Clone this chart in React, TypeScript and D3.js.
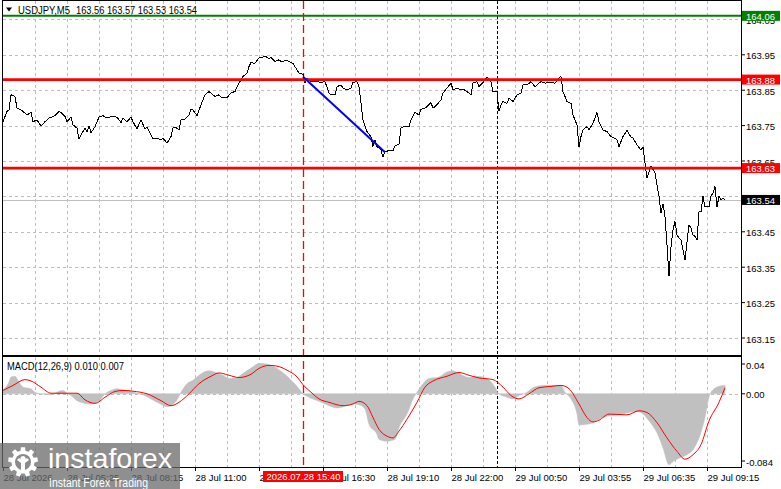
import {useMemo} from "react";
import * as d3 from "d3";

const W = 781;
const H = 489;
const FRAME = {left: 3, right: 741, top: 1, mainBottom: 355, macdTop: 357, macdBottom: 467};
const FONT = "'Liberation Sans', Arial, sans-serif";

// header / legend texts
const symbolTitle = "USDJPY,M5";
const lastOhlc = [163.56, 163.57, 163.53, 163.54];
const macdTitle = "MACD(12,26,9)";
const macdLast = [0.01, 0.007];

// axes
const priceTicks = [163.15, 163.25, 163.35, 163.45, 163.55, 163.65, 163.75, 163.85, 163.95, 164.05];
const macdTicks = [0.04, 0.0, -0.084];
const timeLabels = [
    "28 Jul 2026", "28 Jul 05:25", "28 Jul 08:15", "28 Jul 11:00", "28 Jul 13:45", "28 Jul 16:30",
    "28 Jul 19:10", "28 Jul 22:00", "29 Jul 00:50", "29 Jul 03:55", "29 Jul 06:35", "29 Jul 09:15",
];
const barsPerLabel = 32;
const barsPerGrid = 16;
const totalBars = 369;

// objects on the chart
const greenLevel = 164.06;
const redLevels = [163.88, 163.63];
const lastPrice = 163.54;
const trendLine: [number, number][] = [[150, 163.888], [191, 163.675]];
const crosshairBar = 150;
const crosshairLabel = "2026.07.28 15:40";
const daySeparatorBar = 247;

// close line, [bar, price]
const closes: [number, number][] = [
    [0, 163.761], [2, 163.79], [3, 163.794], [4, 163.837], [6, 163.832], [7, 163.799], [9, 163.794], [10, 163.79],
    [12, 163.78], [14, 163.787], [15, 163.761], [17, 163.766], [18, 163.757], [19, 163.749], [21, 163.761], [23, 163.771],
    [26, 163.778], [28, 163.79], [29, 163.787], [31, 163.776], [32, 163.761], [34, 163.774], [35, 163.752], [37, 163.743],
    [38, 163.712], [39, 163.724], [41, 163.743], [42, 163.733], [43, 163.749], [44, 163.73], [46, 163.747], [48, 163.774],
    [50, 163.778], [52, 163.771], [54, 163.776], [57, 163.774], [59, 163.759], [60, 163.771], [62, 163.761], [64, 163.774],
    [65, 163.761], [67, 163.74], [68, 163.755], [69, 163.766], [71, 163.74], [72, 163.746], [74, 163.724], [75, 163.712],
    [77, 163.715], [79, 163.71], [80, 163.715], [82, 163.7], [84, 163.719], [85, 163.743], [86, 163.746], [88, 163.738],
    [89, 163.766], [91, 163.768], [93, 163.78], [94, 163.796], [95, 163.794], [97, 163.778], [99, 163.809], [100, 163.823],
    [101, 163.837], [103, 163.846], [104, 163.842], [106, 163.832], [108, 163.837], [109, 163.83], [112, 163.828], [114, 163.843],
    [116, 163.846], [117, 163.86], [119, 163.879], [120, 163.889], [122, 163.898], [123, 163.917], [124, 163.928], [126, 163.926],
    [128, 163.941], [129, 163.941], [131, 163.947], [133, 163.938], [134, 163.943], [136, 163.931], [138, 163.936], [139, 163.931],
    [142, 163.934], [145, 163.926], [147, 163.907], [148, 163.898], [150, 163.895], [151, 163.87], [152, 163.884], [154, 163.874],
    [157, 163.874], [159, 163.872], [161, 163.874], [163, 163.842], [164, 163.837], [166, 163.837], [167, 163.86], [169, 163.865],
    [170, 163.856], [172, 163.851], [174, 163.856], [175, 163.872], [177, 163.874], [178, 163.86], [179, 163.813], [180, 163.766],
    [182, 163.733], [184, 163.719], [185, 163.691], [186, 163.71], [187, 163.691], [189, 163.681], [190, 163.661], [191, 163.677],
    [193, 163.679], [195, 163.679], [196, 163.693], [198, 163.698], [199, 163.743], [201, 163.749], [203, 163.746], [204, 163.766],
    [206, 163.787], [208, 163.78], [209, 163.796], [211, 163.799], [214, 163.815], [215, 163.799], [217, 163.809], [219, 163.823],
    [220, 163.842], [222, 163.856], [224, 163.87], [225, 163.851], [227, 163.856], [229, 163.851], [230, 163.853], [232, 163.846],
    [234, 163.837], [235, 163.87], [237, 163.874], [238, 163.86], [240, 163.872], [242, 163.887], [244, 163.874], [245, 163.846],
    [247, 163.846], [248, 163.79], [249, 163.809], [250, 163.818], [252, 163.813], [253, 163.828], [255, 163.818], [257, 163.837],
    [259, 163.842], [260, 163.865], [262, 163.865], [264, 163.874], [266, 163.86], [268, 163.87], [269, 163.874], [271, 163.87],
    [274, 163.872], [276, 163.87], [278, 163.884], [279, 163.889], [280, 163.846], [282, 163.818], [284, 163.813], [285, 163.78],
    [287, 163.752], [288, 163.689], [289, 163.719], [290, 163.738], [292, 163.747], [293, 163.738], [295, 163.757], [297, 163.787],
    [298, 163.761], [300, 163.738], [302, 163.733], [304, 163.719], [305, 163.717], [307, 163.71], [308, 163.691], [310, 163.719],
    [312, 163.736], [314, 163.717], [315, 163.715], [317, 163.696], [319, 163.681], [320, 163.689], [321, 163.644], [322, 163.602],
    [323, 163.62], [324, 163.636], [326, 163.616], [327, 163.583], [328, 163.55], [329, 163.503], [330, 163.529], [331, 163.493],
    [332, 163.413], [333, 163.324], [334, 163.408], [335, 163.456], [336, 163.479], [337, 163.441], [338, 163.432], [339, 163.427],
    [340, 163.399], [341, 163.371], [342, 163.422], [343, 163.47], [344, 163.46], [345, 163.441], [346, 163.437], [347, 163.427],
    [348, 163.507], [349, 163.507], [350, 163.55], [351, 163.521], [353, 163.521], [354, 163.552], [355, 163.559], [356, 163.578],
    [357, 163.521], [358, 163.55], [359, 163.54], [360, 163.545], [361, 163.54],
];

// MACD main (histogram), [bar, value]
const macdMain: [number, number][] = [
    [0, 0.0047], [3, 0.0136], [4, 0.0195], [6, 0.0203], [8, 0.0136], [10, 0.0077], [14, 0.0059], [16, 0.0019], [19, 0],
    [24, -0.0012], [28, 0.003], [30, 0.0039], [32, 0.0007], [34, -0.002], [37, -0.0079], [39, -0.0098], [43, -0.0117],
    [46, -0.011], [49, -0.0059], [51, 0], [54, 0.0039], [57, 0.0059], [60, 0.0047], [64, 0.003], [67, 0.0007], [70, -0.0012],
    [74, -0.0059], [78, -0.011], [82, -0.0149], [84, -0.0137], [87, -0.007], [89, 0.0019], [92, 0.0117], [95, 0.0156],
    [98, 0.0214], [103, 0.0265], [107, 0.0241], [110, 0.0214], [113, 0.0176], [117, 0.0188], [120, 0.0234], [125, 0.0312],
    [128, 0.0352], [132, 0.0343], [137, 0.0293], [141, 0.0226], [145, 0.0136], [148, 0.0059], [150, 0], [153, -0.004],
    [158, -0.0087], [163, -0.0137], [167, -0.0164], [172, -0.0137], [175, -0.0117], [178, -0.0125], [181, -0.0176],
    [183, -0.0352], [187, -0.0469], [188, -0.0527], [192, -0.0547], [196, -0.0527], [198, -0.0391], [202, -0.0234],
    [205, -0.0059], [207, 0.0019], [210, 0.0117], [213, 0.0176], [218, 0.0195], [222, 0.0253], [225, 0.0265], [228, 0.0234],
    [233, 0.0188], [237, 0.0203], [242, 0.0176], [246, 0.0077], [248, 0], [252, -0.004], [255, -0.0059], [258, -0.002],
    [262, 0.0019], [265, 0.007], [270, 0.0097], [275, 0.0097], [279, 0.0097], [281, 0.0019], [284, -0.0059], [287, -0.0234],
    [288, -0.036], [292, -0.0352], [295, -0.0333], [298, -0.0293], [303, -0.0254], [308, -0.0243], [313, -0.0216],
    [317, -0.0204], [320, -0.0234], [323, -0.0313], [327, -0.045], [330, -0.0626], [333, -0.082], [335, -0.0782],
    [338, -0.0743], [342, -0.0703], [345, -0.0645], [348, -0.0509], [351, -0.0274], [353, -0.004], [355, 0.0047],
    [358, 0.0086], [361, 0.01],
];

// MACD signal, [bar, value]
const macdSignal: [number, number][] = [
    [0, 0.0039], [5, 0.0097], [11, 0.0164], [14, 0.0148], [19, 0.0077], [24, 0.0007], [30, 0.0007], [37, 0.0007],
    [41, -0.007], [46, -0.011], [51, -0.004], [56, 0.0027], [60, 0.0039], [65, 0.003], [72, 0], [79, -0.0079],
    [84, -0.0137], [88, -0.0098], [93, 0], [98, 0.0117], [104, 0.0203], [108, 0.0241], [113, 0.0214], [118, 0.0188],
    [124, 0.0226], [128, 0.0293], [133, 0.0328], [137, 0.032], [142, 0.0273], [147, 0.0195], [150, 0.0105], [154, 0.0019],
    [158, -0.0059], [163, -0.0098], [170, -0.0137], [175, -0.0117], [178, -0.0087], [182, -0.0137], [185, -0.0274],
    [188, -0.041], [192, -0.0489], [195, -0.0509], [198, -0.043], [202, -0.0293], [207, -0.0098], [211, 0.0077],
    [215, 0.0148], [222, 0.0203], [228, 0.0246], [233, 0.0214], [238, 0.0183], [245, 0.0164], [250, 0.0077],
    [254, -0.002], [258, -0.0059], [263, 0], [268, 0.007], [274, 0.0086], [279, 0.0097], [283, 0.0059], [288, -0.0117],
    [292, -0.0274], [295, -0.0325], [298, -0.0305], [303, -0.0234], [312, -0.0243], [318, -0.0196], [322, -0.0216],
    [327, -0.0333], [332, -0.0509], [337, -0.0665], [341, -0.0755], [345, -0.0703], [349, -0.0586], [353, -0.0313],
    [358, -0.0098], [361, 0.007],
];

function gearPath(r1: number, r2: number, teeth: number) {
    const pts: [number, number][] = [];
    const step = (Math.PI * 2) / teeth;
    for (let i = 0; i < teeth; i++) {
        const a = i * step;
        const q = step / 4;
        pts.push([a - q * 1.2, r2], [a - q * 0.8, r1], [a + q * 0.8, r1], [a + q * 1.2, r2]);
    }
    return d3.lineRadial().curve(d3.curveLinearClosed)(pts) ?? "";
}

export default function App() {
    const x = useMemo(() => d3.scaleLinear().domain([0, totalBars]).range([FRAME.left, FRAME.right]), []);
    const y = useMemo(() => d3.scaleLinear().domain([163.102, 164.102]).range([FRAME.mainBottom, FRAME.top]), []);
    const my = useMemo(() => d3.scaleLinear().domain([-0.0845, 0.0425]).range([FRAME.macdBottom, FRAME.macdTop]), []);

    const pricePath = d3.line<[number, number]>().x((d) => x(d[0])).y((d) => y(d[1]))(closes) ?? "";
    const trendPath = d3.line<[number, number]>().x((d) => x(d[0])).y((d) => y(d[1]))(trendLine) ?? "";
    const histPath = d3.area<[number, number]>()
        .x((d) => x(d[0]))
        .y0(my(0))
        .y1((d) => my(d[1]))
        .curve(d3.curveMonotoneX)(macdMain) ?? "";
    const signalPath = d3.line<[number, number]>()
        .x((d) => x(d[0]))
        .y((d) => my(d[1]))
        .curve(d3.curveMonotoneX)(macdSignal) ?? "";

    const gridBars = d3.range(barsPerGrid, totalBars - 4, barsPerGrid);
    const gridColor = "#bdbdbd";
    const boxW = 38;

    const clampMacdLabel = (v: number) => Math.min(Math.max(my(v), FRAME.macdTop + 7), FRAME.macdBottom - 6);

    return (
        <svg width={W} height={H} style={{position: "absolute", left: 0, top: 0, background: "#fff"}}
             fontFamily={FONT}>
            <defs>
                <clipPath id="main-clip">
                    <rect x={FRAME.left} y={FRAME.top} width={FRAME.right - FRAME.left}
                          height={FRAME.mainBottom - FRAME.top}/>
                </clipPath>
                <clipPath id="macd-clip">
                    <rect x={FRAME.left} y={FRAME.macdTop} width={FRAME.right - FRAME.left}
                          height={FRAME.macdBottom - FRAME.macdTop}/>
                </clipPath>
            </defs>
            <rect width={W} height={H} fill="#fff"/>

            {/* grid */}
            <g stroke={gridColor} strokeWidth={1} strokeDasharray="3,3" shapeRendering="crispEdges">
                {priceTicks.map((p) => (
                    <line key={p} x1={FRAME.left} x2={FRAME.right} y1={Math.round(y(p)) + 0.5} y2={Math.round(y(p)) + 0.5}/>
                ))}
                {gridBars.map((b) => (
                    <g key={b}>
                        <line x1={Math.round(x(b)) + 0.5} x2={Math.round(x(b)) + 0.5} y1={FRAME.top} y2={FRAME.mainBottom}/>
                        <line x1={Math.round(x(b)) + 0.5} x2={Math.round(x(b)) + 0.5} y1={FRAME.macdTop} y2={FRAME.macdBottom}/>
                    </g>
                ))}
                <line x1={FRAME.left} x2={FRAME.right} y1={Math.round(my(0)) + 0.5} y2={Math.round(my(0)) + 0.5}/>
            </g>

            {/* last price line */}
            <line x1={FRAME.left} x2={FRAME.right} y1={Math.round(y(lastPrice)) + 0.5} y2={Math.round(y(lastPrice)) + 0.5}
                  stroke="#c0c0c0" strokeWidth={1}/>

            {/* vertical separators */}
            <line x1={x(daySeparatorBar) + 0.5} x2={x(daySeparatorBar) + 0.5} y1={FRAME.top} y2={FRAME.macdBottom}
                  stroke="#000" strokeWidth={1} strokeDasharray="3,2" shapeRendering="crispEdges"/>
            <line x1={x(crosshairBar) + 0.5} x2={x(crosshairBar) + 0.5} y1={FRAME.top} y2={FRAME.macdBottom}
                  stroke="#ff0000" strokeWidth={1.3} strokeDasharray="8,4"/>

            {/* price */}
            <g clipPath="url(#main-clip)">
                <path d={pricePath} fill="none" stroke="#000" strokeWidth={1} shapeRendering="crispEdges"/>
                <line x1={FRAME.left} x2={FRAME.right} y1={y(greenLevel)} y2={y(greenLevel)} stroke="#008000" strokeWidth={2}/>
                {redLevels.map((p) => (
                    <line key={p} x1={FRAME.left} x2={FRAME.right} y1={y(p)} y2={y(p)} stroke="#ff0000" strokeWidth={2.6}/>
                ))}
                <path d={trendPath} fill="none" stroke="#0000ff" strokeWidth={2}/>
            </g>

            {/* MACD */}
            <g clipPath="url(#macd-clip)">
                <path d={histPath} fill="#c0c0c0" stroke="#c0c0c0" strokeWidth={0.5}/>
                <path d={signalPath} fill="none" stroke="#ff0000" strokeWidth={1}/>
            </g>

            {/* frames */}
            <g fill="none" stroke="#000" strokeWidth={1} shapeRendering="crispEdges">
                <rect x={FRAME.left - 0.5} y={FRAME.top - 0.5} width={FRAME.right - FRAME.left + 1}
                      height={FRAME.mainBottom - FRAME.top + 1}/>
                <rect x={FRAME.left - 0.5} y={FRAME.macdTop - 0.5} width={FRAME.right - FRAME.left + 1}
                      height={FRAME.macdBottom - FRAME.macdTop + 1}/>
            </g>

            {/* right price axis */}
            <g fontSize={9.5} fill="#000">
                {priceTicks.map((p) => (
                    <g key={p}>
                        <line x1={FRAME.right} x2={FRAME.right + 4} y1={y(p)} y2={y(p)} stroke="#000"/>
                        <text x={FRAME.right + 5} y={y(p) + 1} dominantBaseline="central">{p.toFixed(2)}</text>
                    </g>
                ))}
                {macdTicks.map((v) => (
                    <g key={v}>
                        <line x1={FRAME.right} x2={FRAME.right + 4} y1={clampMacdLabel(v)} y2={clampMacdLabel(v)}
                              stroke="#000"/>
                        <text x={FRAME.right + 5} y={clampMacdLabel(v) + 1} dominantBaseline="central">
                            {v === -0.084 ? v.toFixed(3) : v.toFixed(2)}
                        </text>
                    </g>
                ))}
            </g>

            {/* level tags */}
            <g fontSize={9.5}>
                {[{p: greenLevel, c: "#008000"}, ...redLevels.map((p) => ({p, c: "#ff0000"})), {p: lastPrice, c: "#000"}]
                    .map(({p, c}) => (
                        <g key={p}>
                            <rect x={FRAME.right + 1} y={y(p) - 5} width={boxW} height={10} fill={c}/>
                            <text x={FRAME.right + 5} y={y(p) + 0.5} dominantBaseline="central" fill="#fff">
                                {p.toFixed(2)}
                            </text>
                        </g>
                    ))}
            </g>

            {/* time axis */}
            <g fontSize={9.5} fill="#000">
                {timeLabels.map((t, i) => {
                    const tx = Math.round(x(i * barsPerLabel)) + 0.5;
                    return (
                        <g key={t}>
                            <line x1={tx} x2={tx} y1={FRAME.macdBottom} y2={FRAME.macdBottom + 4} stroke="#000"/>
                            <text x={tx} y={477} dominantBaseline="central">{t}</text>
                        </g>
                    );
                })}
                <rect x={x(crosshairBar) - 40} y={471} width={80} height={11} fill="#ff0000"/>
                <text x={x(crosshairBar) + 0.5} y={476.8} textAnchor="middle" dominantBaseline="central" fill="#fff">
                    {crosshairLabel}
                </text>
            </g>

            {/* header legends */}
            <g fontSize={10} fill="#000">
                <path d="M6,7.5 L12,7.5 L9,11.5 Z" fill="#000"/>
                <text x={18} y={10} dominantBaseline="central" textLength={52} lengthAdjust="spacingAndGlyphs">
                    {symbolTitle}
                </text>
                <text x={76} y={10} dominantBaseline="central" textLength={121} lengthAdjust="spacingAndGlyphs">
                    {lastOhlc.map((v) => v.toFixed(2)).join(" ")}
                </text>
                <text x={7} y={366} dominantBaseline="central" textLength={117} lengthAdjust="spacingAndGlyphs">
                    {macdTitle + " " + macdLast.map((v) => v.toFixed(3)).join(" ")}
                </text>
            </g>

            {/* watermark */}
            <g>
                <rect x={0} y={443} width={180} height={46} fill="#6a6a6a" opacity={0.75}/>
                <g transform="translate(23,462)" fill="#fff">
                    <path d={gearPath(15, 11.5, 9)}/>
                    <circle r={8} fill="#8a8a8a"/>
                    <circle cy={-3.5} r={2.6} fill="#fff"/>
                    <path d="M-6,-2 L-2,1 L-2,9 L2,9 L2,1 L6,-2 L4,-4 L0,-1 L-4,-4 Z" fill="#fff"/>
                </g>
                <text x={48} y={468} fontSize={28} fill="#fff" textLength={124} lengthAdjust="spacingAndGlyphs">
                    instaforex
                </text>
                <text x={49} y={487} fontSize={12.5} fill="#fff" textLength={99} lengthAdjust="spacingAndGlyphs">
                    Instant Forex Trading
                </text>
            </g>
        </svg>
    );
}
